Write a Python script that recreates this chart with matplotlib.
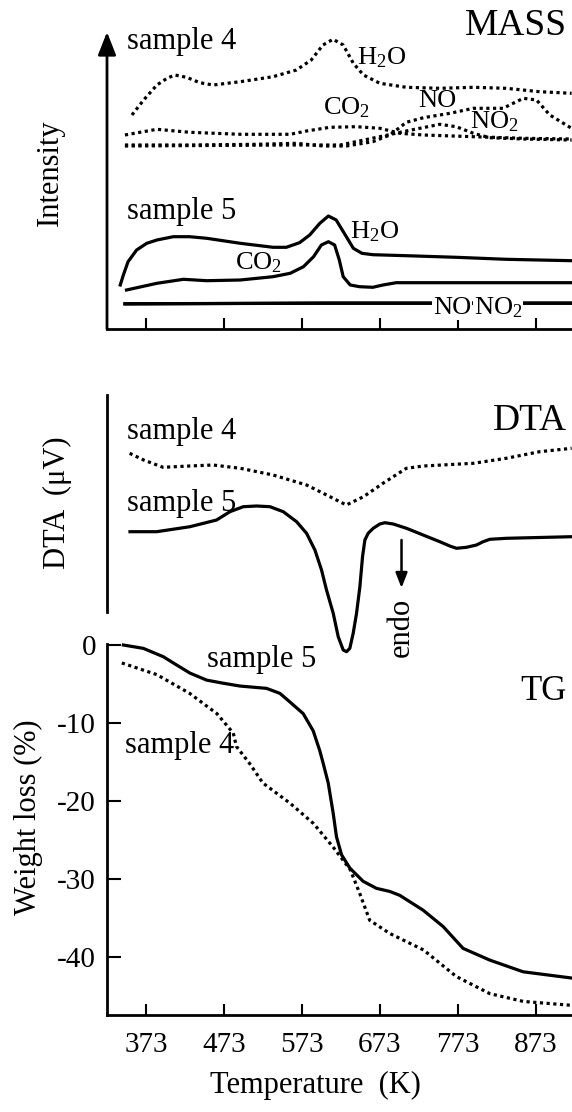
import matplotlib
matplotlib.use("Agg")
import matplotlib.pyplot as plt

plt.rcParams['font.family'] = ['Liberation Serif', 'DejaVu Serif']
plt.rcParams['mathtext.fontset'] = 'custom'
plt.rcParams['mathtext.rm'] = 'Liberation Serif'
plt.rcParams['mathtext.it'] = 'Liberation Serif:italic'

# ---------------- data ----------------
# MASS, sample 4 (dotted), arbitrary intensity units
m4_h2o_T = [355, 370, 387, 400, 410, 425, 442, 459, 494, 536, 566, 585, 600, 613, 626, 639, 652, 673, 707, 750, 793, 835, 878, 919]
m4_h2o_I = [215, 230, 245, 251.7, 255, 252.7, 247.3, 245, 248.3, 253.3, 260, 270, 285, 290.7, 285, 266.7, 255, 246.7, 242.7, 241.7, 242.7, 241.7, 238.3, 236.7]
m4_co2_T = [346, 387, 429, 494, 558, 579, 609, 643, 673, 699, 729, 793, 857, 919]
m4_co2_I = [195, 200.7, 197.7, 195.7, 195.7, 199, 202.7, 203.3, 201.7, 196.7, 195, 193.3, 191.7, 191]
m4_no_T = [346, 429, 515, 566, 600, 630, 664, 686, 707, 729, 763, 793, 831, 857, 874, 891, 919]
m4_no_I = [185, 185, 185.7, 186.7, 184, 184, 188.3, 195, 207.7, 212.3, 216.7, 221.7, 221.7, 231.7, 230, 215, 201.7]
m4_no2_T = [346, 558, 622, 673, 707, 750, 771, 793, 814, 857, 919]
m4_no2_I = [184, 185, 185, 193.3, 199, 205.7, 203.3, 196.7, 192.3, 191, 190]

# MASS, sample 5 (solid)
m5_h2o_T = [340, 344, 350, 361, 374, 387, 408, 429, 451, 494, 536, 553, 570, 583, 596, 607, 617, 630, 639, 650, 664, 707, 771, 835, 919]
m5_h2o_I = [45, 55, 68.3, 80, 86.7, 90, 93.3, 93.3, 91.7, 86.7, 82.7, 82.7, 87.3, 95, 106.7, 114, 110, 93.3, 81.7, 76.7, 75.3, 74.3, 72.7, 70.7, 69.3]
m5_co2_T = [348, 387, 421, 451, 494, 536, 558, 575, 588, 598, 607, 615, 621, 626, 635, 647, 664, 677, 694, 919]
m5_co2_I = [40, 46.7, 50.7, 49.3, 50, 53.3, 56.7, 63.3, 73.3, 85, 88.3, 85, 70, 53.3, 45, 43.3, 42.7, 45, 47.3, 47.3]
m5_no_T = [346, 600, 919]
m5_no_I = [26.0, 27.0, 27.0]
m5_no2_T = [346, 600, 919]
m5_no2_I = [26.3, 26.7, 26.7]

# DTA (arbitrary units)
d4_T = [352, 370, 395, 429, 459, 494, 536, 579, 609, 630, 652, 677, 707, 729, 793, 835, 878, 919]
d4_V = [158.7, 152, 144.7, 146, 147, 143.7, 137, 127, 115.3, 107, 115.3, 128.7, 143.7, 146, 148.7, 153.7, 160.3, 163.7]
d5_T = [352.5, 386.7, 429.4, 463.6, 480.7, 497.8, 514.9, 532, 549.1, 566.2, 579, 589.7, 598.2, 604.6, 613.2, 619.6, 626,
        630.3, 634.5, 638.8, 643.1, 647.4, 650.8, 653.8, 658, 664.5, 673, 679.4, 690.1, 707.2, 728.5, 749.9, 762.7,
        771.3, 784.1, 797, 805.5, 814.1, 835.4, 919]
d5_V = [80.3, 80.3, 85.3, 92, 100.3, 105.3, 106, 105.3, 100.3, 90.3, 78.7, 62, 42, 22, -1.3, -24.7, -38,
        -39.7, -36.3, -21.3, -1.3, 25.3, 55.3, 72, 78.7, 83.7, 88, 89.3, 88, 83.7, 77, 70.3, 66,
        63.7, 64.7, 67, 70.3, 72.7, 73.7, 75.3]

# TG weight loss (%)
tg5_T = [344, 369.6, 395.2, 412.3, 429.4, 450.8, 472.1, 493.5, 527.7, 544.8, 557.6, 574.7, 587.5, 596.1, 600.4, 606.8,
         613.2, 617.4, 623.9, 634.5, 651.6, 668.7, 685.8, 698.6, 728.5, 754.2, 779.8, 814, 856.8, 919]
tg5_W = [0.0, -0.43, -1.5, -2.56, -3.6, -4.5, -4.9, -5.26, -5.56, -6.2, -7.3, -8.8, -11.0, -13.6, -15.2, -17.7,
         -21.6, -24.6, -26.9, -28.6, -30.3, -31.2, -31.6, -32.1, -34.0, -36.1, -38.9, -40.4, -41.9, -42.7]
tg4_T = [342, 387, 429, 464, 485, 489, 506, 523, 558, 588, 613, 635, 647, 660, 686, 729, 771, 814, 857, 919]
tg4_W = [-2.3, -3.8, -6.2, -8.8, -11.3, -13.0, -15.2, -17.7, -20.3, -22.9, -25.9, -28.8, -31.8, -35.3, -37.0, -39.1, -42.5, -44.7, -45.7, -46.2]

x_ticks = [373, 473, 573, 673, 773, 873]
tg_ticks = [0, -10, -20, -30, -40]

# ---------------- layout ----------------
W, H = 572, 1112
fig = plt.figure(figsize=(W / 100, H / 100), dpi=100)

def fx(x):
    return x / W

def fy(y):
    return 1 - y / H

def axes_px(x0, y0, x1, y1):
    ax = fig.add_axes([fx(x0), fy(y1), fx(x1) - fx(x0), fy(y0) - fy(y1)])
    ax.patch.set_visible(False)
    return ax

XLIM = (323, 919.5)
FS = 22
FC = 19
FB = 27
LW = 2.3
DOT = (0, (1.0, 1.1))

# MASS panel
axm = axes_px(107, 32, 572, 329)
axm.set_xlim(*XLIM)
axm.set_ylim(1, 298)
for s in ['top', 'right', 'left']:
    axm.spines[s].set_visible(False)
axm.spines['bottom'].set_linewidth(2)
axm.set_xticks(x_ticks)
axm.set_xticklabels([])
axm.set_yticks([])
axm.tick_params(axis='x', direction='in', length=8, width=1.5)
axm.annotate('', xy=(0, 1), xytext=(0, 0), xycoords='axes fraction',
             arrowprops=dict(arrowstyle='-|>,head_length=1.4,head_width=0.55', lw=2, color='black',
                             shrinkA=0, shrinkB=0))
for T, I in [(m4_h2o_T, m4_h2o_I), (m4_co2_T, m4_co2_I), (m4_no_T, m4_no_I), (m4_no2_T, m4_no2_I)]:
    axm.plot(T, I, color='black', lw=LW, ls=DOT, clip_on=False)
for T, I in [(m5_h2o_T, m5_h2o_I), (m5_co2_T, m5_co2_I), (m5_no_T, m5_no_I), (m5_no2_T, m5_no2_I)]:
    axm.plot(T, I, color='black', lw=LW, ls='-', clip_on=False)

# DTA panel
axd = axes_px(107, 395, 572, 612)
axd.set_zorder(3)
axd.set_xlim(*XLIM)
axd.set_ylim(0, 217)
for s in ['top', 'right', 'bottom']:
    axd.spines[s].set_visible(False)
axd.spines['left'].set_linewidth(2)
axd.set_xticks([])
axd.set_yticks([])
axd.plot(d4_T, d4_V, color='black', lw=LW, ls=DOT, clip_on=False)
axd.plot(d5_T, d5_V, color='black', lw=LW, ls='-', clip_on=False)
axd.annotate('', xy=(700.8, 24), xytext=(700.8, 72), xycoords='data',
             arrowprops=dict(arrowstyle='-|>,head_length=0.9,head_width=0.35', lw=1.8, color='black',
                             shrinkA=0, shrinkB=0), annotation_clip=False)

# TG panel
axt = axes_px(107, 644, 572, 1015)
axt.set_xlim(*XLIM)
axt.set_ylim(-47.44, 0.13)
for s in ['top', 'right']:
    axt.spines[s].set_visible(False)
axt.spines['left'].set_linewidth(2)
axt.spines['bottom'].set_linewidth(2)
axt.set_xticks(x_ticks)
axt.set_xticklabels([str(t) for t in x_ticks], fontsize=21)
axt.set_yticks(tg_ticks)
axt.set_yticklabels([str(t) for t in tg_ticks], fontsize=21)
axt.tick_params(axis='x', direction='in', length=8, width=1.5, pad=12)
axt.tick_params(axis='y', direction='in', length=10, width=1.5, pad=8)
axt.plot(tg5_T, tg5_W, color='black', lw=LW, ls='-', clip_on=False)
axt.plot(tg4_T, tg4_W, color='black', lw=LW, ls=DOT, clip_on=False)
axt.set_xlabel('Temperature  (K)', fontsize=FS)
axt.xaxis.set_label_coords((315 - 107) / (572 - 107), -(1071 - 1015) / (1015 - 644))

# ---------------- texts ----------------
def txt(x, y, s, ha='left', **kw):
    fig.text(fx(x), fy(y), s, ha=ha, va='center', fontsize=kw.pop('fontsize', FS), **kw)

txt(50, 173, 'Intensity', ha='center', rotation=90)
txt(57, 503, 'DTA  (\u03bcV)', ha='center', rotation=90)
txt(28, 817, 'Weight loss (%)', ha='center', rotation=90)

txt(127, 41, 'sample 4')
txt(567, 26, 'MASS', ha='right', fontsize=FB)
txt(357, 58, 'H$_2$O', fontsize=FC)
txt(323, 108, 'CO$_2$', fontsize=FC)
txt(418, 101, 'NO', fontsize=FC)
txt(470, 122, 'NO$_2$', fontsize=FC)
txt(127, 212, 'sample 5')
txt(350, 232, 'H$_2$O', fontsize=FC)
txt(235, 263, 'CO$_2$', fontsize=FC)
txt(433, 308, 'NO', fontsize=FC, bbox=dict(facecolor='white', edgecolor='none', pad=0.5))
txt(474, 308, 'NO$_2$', fontsize=FC, bbox=dict(facecolor='white', edgecolor='none', pad=0.5))

txt(127, 432, 'sample 4')
txt(567, 421, 'DTA', ha='right', fontsize=FB)
txt(127, 503, 'sample 5')
txt(401, 627, 'endo', ha='center', rotation=90)

txt(207, 660, 'sample 5')
txt(567, 692, 'TG', ha='right', fontsize=25)
txt(125, 746, 'sample 4')

fig.savefig('out.png', dpi=100)
